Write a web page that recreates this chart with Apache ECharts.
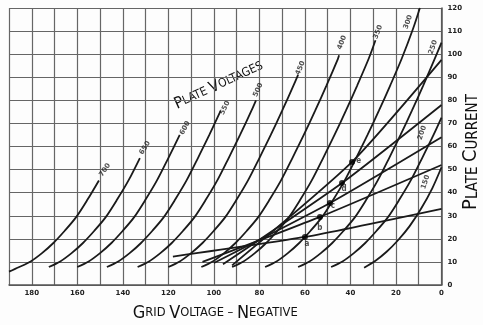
<!DOCTYPE html>
<html><head><meta charset="utf-8">
<script src="https://cdn.jsdelivr.net/npm/echarts@6/dist/echarts.min.js"></script>
<style>html,body{margin:0;padding:0;background:#fff}#c{width:483px;height:325px}</style>
</head><body><div id="c"></div>
<script>
// x: grid voltage (negative), y: plate current (mA)
const gridVoltageTicks = [0, 20, 40, 60, 80, 100, 120, 140, 160, 180];
const currentTicks = [0, 10, 20, 30, 40, 50, 60, 70, 80, 90, 100, 110, 120];

// plate-voltage curves: [grid volts, plate current]
const pv700 = [[190,5.8],[185.5,7.8],[180.5,10.2],[175.5,13.8],[170.5,18.2],[165.5,23.5],[160.5,29.4],[155.5,37],[150.5,45.3]];
const pv650 = [[172.5,7.8],[167.5,10.2],[162.5,13.8],[157.5,18.2],[152.5,23.5],[147.5,29.4],[142.5,37],[137.5,45.3],[132.5,55]];
const pv600 = [[160,7.8],[155,10.2],[150,13.8],[145,18.2],[140,23.5],[135,29.4],[130,37],[125,45.3],[120,55],[115,65]];
const pv550 = [[147,7.8],[142,10.2],[137,13.8],[132,18.2],[127,23.5],[122,29.4],[117,37],[112,45.3],[107,55],[102,65],[97,75.5]];
const pv500 = [[133.5,7.8],[128.5,10.2],[123.5,13.8],[118.5,18.2],[113.5,23.5],[108.5,29.4],[103.5,37],[98.5,45.3],[93.5,55],[88.5,65],[83.5,75.5],[81.5,80]];
const pv450 = [[120,7.8],[115,10.2],[110,13.8],[105,18.2],[100,23.5],[95,29.4],[90,37],[85,45.3],[80,55],[75,65],[70,75.5],[65,86.5],[63,91]];
const pv400 = [[105.5,7.8],[100.5,10.2],[95.5,13.8],[90.5,18.2],[85.5,23.5],[80.5,29.4],[75.5,37],[70.5,45.3],[65.5,55],[60.5,65],[55.5,75.5],[50.5,86.5],[45.5,98],[45,99.5]];
const pv350 = [[92,7.8],[87,10.2],[82,13.8],[77,18.2],[72,23.5],[67,29.4],[62,37],[57,45.3],[52,55],[47,65],[42,75.5],[37,86.5],[32,98],[29,106]];
const pv300 = [[77.5,7.8],[72.5,10.2],[67.5,13.8],[62.5,18.2],[57.5,23.5],[52.5,29.4],[47.5,37],[42.5,45.3],[37.5,55],[32.5,65],[27.5,75.5],[22.5,86.5],[17.5,98],[12.5,111],[9.5,120]];
const pv250 = [[63,7.8],[58,10.2],[53,13.8],[48,18.2],[43,23.5],[38,29.4],[33,37],[28,45.3],[23,55],[18,65],[13,75.5],[8,86.5],[3,98],[0,105]];
const pv200 = [[48.5,7.8],[43.5,10.2],[38.5,13.8],[33.5,18.2],[28.5,23.5],[23.5,29.4],[18.5,37],[13.5,45.3],[8.5,55],[3.5,65],[0,72.5]];
const pv150 = [[34,7.5],[29,10.5],[24,14.5],[19,19.5],[14,25.5],[9,33],[4,42],[0,51]];

// dynamic (load) lines a..e: start, point on 300 V curve, end at zero bias
const lineA = [[118,12.3],[60,20.8],[0,33]];
const lineB = [[105,10],[53.4,29.5],[0,52]];
const lineC = [[100,9.5],[49,35.5],[0,64]];
const lineD = [[96,9],[43.7,44.2],[0,78]];
const lineE = [[92,8.5],[39.3,53.3],[0,97.5]];

// marked points on the 300 V curve
const opPoints = [[60,20.8],[53.4,29.5],[49,35.5],[43.7,44.2],[39.3,53.3]];
const opLetters = ['a','b','c','d','e'];
const opLetterPos = [[59.1,17.6],[53.4,24.8],[47.7,34.2],[42.8,41.8],[36.4,53.6]];

const curveNames = ['700','650','600','550','500','450','400','350','300','250','200','150'];
const curveLabelPos = [[147.9,49.8],[130.3,59.4],[112.7,68],[95.1,76.7],[80.6,84.5],[62,94],[43.7,105],[27.9,109.6],[14.7,113.9],[3.7,103],[8.5,66],[7,44.6]];
const curveLabelRot = [55,58,62,64,66,68,68,68,70,70,72,72];

const curves = [pv700,pv650,pv600,pv550,pv500,pv450,pv400,pv350,pv300,pv250,pv200,pv150];
const loads = [lineA,lineB,lineC,lineD,lineE];

const hand = '"DejaVu Sans Condensed","Liberation Sans Narrow",sans-serif';
const series = [];
curves.forEach((d,i)=>series.push({type:'line',data:d,smooth:0.3,showSymbol:false,silent:true,
  lineStyle:{color:'#1a1a1a',width:1.8},z:3}));
loads.forEach(d=>series.push({type:'line',data:d,smooth:0.2,showSymbol:false,silent:true,
  lineStyle:{color:'#1a1a1a',width:1.8},z:3}));
series.push({type:'scatter',data:opPoints,symbolSize:6,itemStyle:{color:'#000'},z:4});
series.push({type:'scatter',symbolSize:0,z:5,
  data:opLetters.map((t,i)=>({value:opLetterPos[i],name:t})),
  label:{show:true,position:'inside',formatter:p=>p.name,fontSize:8,fontWeight:'bold',color:'#222',fontFamily:hand}});
series.push({type:'scatter',symbolSize:0,z:5,
  data:curveNames.map((t,i)=>({value:curveLabelPos[i],name:t,label:{rotate:curveLabelRot[i]}})),
  label:{show:true,position:'inside',formatter:p=>p.name,fontSize:7,fontWeight:'bold',color:'#222',fontFamily:'DejaVu Sans'}});

const chart = echarts.init(document.getElementById('c'),null,{renderer:'canvas'});
chart.setOption({
  animation:false,
  backgroundColor:'#fdfdfd',
  grid:{left:9,right:41.5,top:8,bottom:40,containLabel:false,outerBoundsMode:'none'},
  xAxis:{type:'value',inverse:true,min:0,max:190,interval:10,
    axisLine:{show:true,lineStyle:{color:'#555',width:1.5}},
    axisTick:{show:false},
    splitLine:{show:true,lineStyle:{color:'#666',width:1.2}},
    axisLabel:{fontSize:7,fontWeight:'bold',color:'#222',margin:5,fontFamily:'DejaVu Sans',
      formatter:v=>gridVoltageTicks.includes(v)?String(v):''},
    name:'{b|G}{s|RID }{b|V}{s|OLTAGE – }{b|N}{s|EGATIVE}',nameLocation:'middle',nameGap:19,
    nameTextStyle:{padding:[0,20,0,0],rich:{b:{fontSize:18,fontFamily:hand,color:'#111'},s:{fontSize:12.8,fontFamily:hand,color:'#111'}}}
  },
  yAxis:{type:'value',position:'right',min:0,max:120,interval:10,
    axisLine:{show:true,lineStyle:{color:'#555',width:1.5}},
    axisTick:{show:false},
    splitLine:{show:true,lineStyle:{color:'#666',width:1.2}},
    axisLabel:{fontSize:7,fontWeight:'bold',color:'#222',margin:6,align:'left',fontFamily:'DejaVu Sans',
      formatter:v=>currentTicks.includes(v)?String(v):''}
  },
  graphic:[
    {type:'text',left:172,top:58,rotation:0.43,
      style:{text:'{b|P}{s|LATE }{b|V}{s|OLTAGES}',
        rich:{b:{fontSize:16,fontFamily:hand,fill:'#111'},s:{fontSize:12,fontFamily:hand,fill:'#111'}}}},
    {type:'text',x:471,y:152,rotation:Math.PI/2,
      style:{text:'{b|P}{s|LATE }{b|C}{s|URRENT}',align:'center',verticalAlign:'middle',
        rich:{b:{fontSize:20,fontFamily:hand,fill:'#111',verticalAlign:'bottom'},s:{fontSize:15,fontFamily:hand,fill:'#111',verticalAlign:'bottom'}}}}
  ],
  series:series
});
</script></body></html>
